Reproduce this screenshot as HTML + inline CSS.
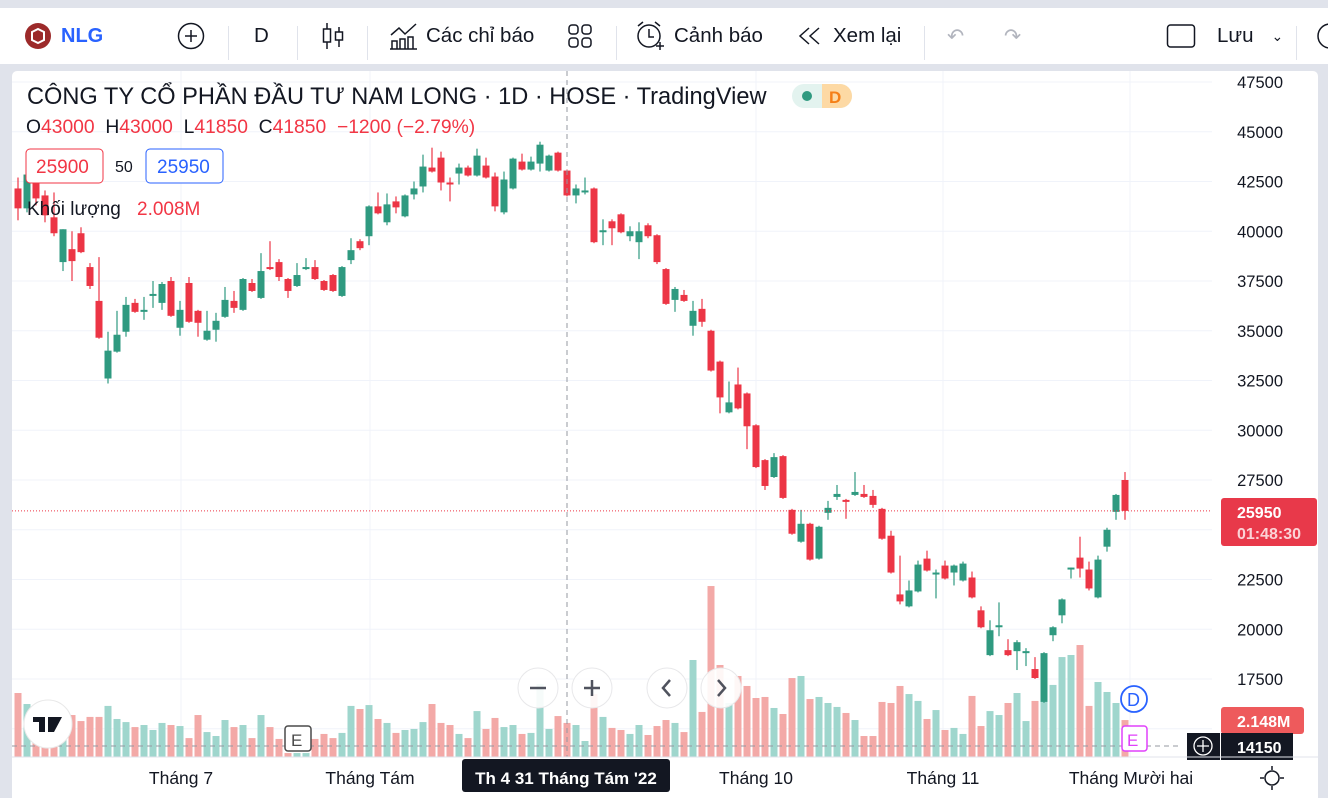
<!DOCTYPE html>
<html><head><meta charset="utf-8">
<style>
*{margin:0;padding:0;box-sizing:border-box}
body{width:1328px;height:798px;overflow:hidden;background:#e0e3eb;font-family:"Liberation Sans","Noto Sans CJK SC",sans-serif;position:relative}
#topbar{position:absolute;left:0;top:8px;width:1328px;height:56px;background:#fff;color:#131722}
.tb{position:absolute;top:0;height:56px;display:flex;align-items:center;font-size:20.5px;color:#131722}
.sep{position:absolute;top:18px;width:1px;height:34px;background:#e0e3eb}
#panel{position:absolute;left:12px;top:71px;width:1306px;height:727px;background:#fff;border-radius:5px 5px 0 0;overflow:hidden}
svg text{font-family:"Liberation Sans","Noto Sans CJK SC",sans-serif}
</style></head><body>
<div id="topbar">
  <div class="tb" style="left:24px"><svg width="28" height="28"><circle cx="14" cy="14" r="13" fill="#9c2a2a"/><path d="M8 10 L14 7 L20 10 L20 18 L14 21 L8 18Z" fill="none" stroke="#fff" stroke-width="2"/></svg></div>
  <div class="tb" style="left:61px;font-weight:bold;color:#2962ff;font-size:20px">NLG</div>
  <div class="tb" style="left:177px"><svg width="28" height="28"><circle cx="14" cy="14" r="12.5" fill="none" stroke="#131722" stroke-width="1.5"/><path d="M14 8v12M8 14h12" stroke="#131722" stroke-width="1.5"/></svg></div>
  <div class="sep" style="left:228px"></div>
  <div class="tb" style="left:254px">D</div>
  <div class="sep" style="left:297px"></div>
  <div class="tb" style="left:320px"><svg width="26" height="30"><path d="M7 2v26M19 6v20" stroke="#131722" stroke-width="1.5"/><rect x="3.5" y="8" width="7" height="13" fill="#fff" stroke="#131722" stroke-width="1.5"/><rect x="15.5" y="11" width="7" height="8" fill="#fff" stroke="#131722" stroke-width="1.5"/></svg></div>
  <div class="sep" style="left:367px"></div>
  <div class="tb" style="left:389px"><svg width="30" height="30" style="margin-right:7px"><path d="M2 14l8-7 6 6 11-10" fill="none" stroke="#131722" stroke-width="1.5"/><path d="M3 28v-8h5v8M11 28v-10h5v10M19 28v-12h5v12M1 28h27" fill="none" stroke="#131722" stroke-width="1.5"/></svg>Các chỉ báo</div>
  <div class="tb" style="left:567px"><svg width="26" height="26"><rect x="2" y="2" width="9" height="9" rx="3" fill="none" stroke="#131722" stroke-width="1.5"/><rect x="15" y="2" width="9" height="9" rx="3" fill="none" stroke="#131722" stroke-width="1.5"/><rect x="2" y="15" width="9" height="9" rx="3" fill="none" stroke="#131722" stroke-width="1.5"/><rect x="15" y="15" width="9" height="9" rx="3" fill="none" stroke="#131722" stroke-width="1.5"/></svg></div>
  <div class="sep" style="left:616px"></div>
  <div class="tb" style="left:634px"><svg width="32" height="32" style="margin-right:8px"><circle cx="15" cy="16" r="11" fill="none" stroke="#131722" stroke-width="1.5"/><path d="M15 9v8h5M4 6l5-4M26 6l-5-4M22 26h8M26 22v8" fill="none" stroke="#131722" stroke-width="1.5"/></svg>Cảnh báo</div>
  <div class="tb" style="left:797px"><svg width="26" height="22" style="margin-right:10px"><path d="M12 3L3 11l9 8M22 3l-9 8 9 8" fill="none" stroke="#131722" stroke-width="1.5"/></svg>Xem lại</div>
  <div class="sep" style="left:924px"></div>
  <div class="tb" style="left:947px;color:#b2b5be">↶</div>
  <div class="tb" style="left:1004px;color:#b2b5be">↷</div>
  <div class="tb" style="left:1166px"><svg width="30" height="30"><rect x="1.5" y="4" width="27" height="22" rx="3" fill="none" stroke="#131722" stroke-width="1.5"/></svg></div>
  <div class="tb" style="left:1217px">Lưu<span style="font-size:14px;margin-left:18px">⌄</span></div>
  <div class="sep" style="left:1296px"></div>
  <div class="tb" style="left:1314px"><svg width="20" height="30"><circle cx="16" cy="15" r="12" fill="none" stroke="#131722" stroke-width="1.5"/></svg></div>
</div>
<div id="panel">
<svg id="chart" width="1306" height="727"></svg>
</div>
<script>
const opens=[42150,41150,42600,41800,40700,38450,39100,39900,38200,36500,32600,33950,34950,36400,35950,36750,36400,37500,35150,37400,36000,34550,35050,35700,36500,36050,37400,36650,38200,38450,37600,37250,38100,38200,37500,37800,36750,38550,39500,39750,41250,40450,41500,40750,41850,42250,43200,43700,42450,42900,43200,42800,43300,42750,40950,42150,43500,43100,43400,43050,43950,43050,41800,41950,42150,39950,40500,40850,39750,39450,40300,39800,38100,36550,36800,35250,36100,35000,33450,30900,32300,31850,30250,28500,27650,28700,26000,24400,25300,23550,25850,26650,26500,26750,26800,26700,26050,24700,21750,21150,21900,23550,22750,23200,22850,22450,22600,20950,18700,20100,18950,18900,18800,18000,16350,19700,20700,23000,23600,23000,21600,24150,25900,27500];
const highs=[42700,43100,43000,42050,41950,40100,40000,40200,38400,38700,34950,36000,36700,36600,36700,37500,37450,37700,36500,37700,36050,36000,35900,37200,37000,37650,37600,38900,39500,38600,37650,38400,38650,38550,37550,37850,38250,39650,39600,41300,41950,41900,41750,41850,42500,43850,44200,44000,42700,43400,43300,44150,43700,42950,43000,43700,43900,43750,44500,43850,44000,43100,42350,42700,42200,40600,40600,40900,40250,40450,40400,39850,38150,37200,37050,36500,36600,35050,33500,32450,33150,31900,30300,28550,28850,28750,26050,26000,25350,25200,26450,27250,26550,27900,27250,27000,26100,24950,23700,22450,23450,23950,23000,23450,23250,23400,22900,21150,20450,21350,19500,19450,19050,18600,18850,20150,21550,23100,24650,23400,23700,25100,26800,27900];
const lows=[40550,40950,41300,40450,39750,38000,37500,38900,37100,34600,32350,33900,34700,35900,35550,36150,36050,35700,34750,35400,34700,34500,34450,35650,35900,36000,36950,36600,38050,37500,36650,37200,38050,37550,37000,36950,36700,38350,39050,39300,40850,40300,40900,40700,41600,41950,42950,42050,41500,42350,42750,42750,42650,41000,40850,42100,43050,43050,43000,43000,43000,41750,41400,41850,39400,39300,39300,39900,39500,38600,39650,38350,36300,35950,36450,34750,35200,32950,30850,30850,31050,29050,28100,27000,27600,26550,24750,24350,23450,23500,25500,26500,25550,26700,26600,26100,24500,22800,21250,21100,21850,22900,21550,22500,22200,22400,21550,20050,18650,19650,18650,17950,18150,17500,16300,19400,20300,22550,22600,21950,21550,23900,25500,25500];
const closes=[41150,42850,41650,40800,39900,40100,38500,38950,37250,34650,34000,34800,36300,35950,36050,36850,37350,35750,36050,35450,35400,35000,35500,36550,36150,37600,37000,38000,38100,37700,37000,37800,38200,37600,37050,37000,38200,39050,39150,41250,40900,41350,41200,41800,42150,43250,43000,42450,42350,43200,42800,43800,42700,41250,42600,43650,43100,43500,44350,43800,43050,41800,42150,42050,39450,40050,40150,39950,40000,40000,39750,38450,36350,37100,36500,36000,35450,33000,31650,31400,31100,30200,28150,27200,28650,26600,24800,25300,23500,25150,26100,26800,26400,26900,26650,26250,24550,22850,21400,21950,23250,22950,22850,22550,23200,23300,21600,20100,19950,20200,18700,19350,18900,17550,18800,20100,21500,23100,23050,22050,23500,25000,26750,25950];
const volumes=[3.72,3.08,2.27,2.62,2.38,2.44,2.44,2.09,2.33,2.33,2.97,2.21,2.03,1.74,1.86,1.57,1.98,1.86,1.80,1.10,2.44,1.45,1.22,2.15,1.74,1.86,1.10,2.44,1.74,1.05,0.23,0.23,0.23,1.05,1.34,1.10,1.40,2.97,2.79,3.02,2.21,1.98,1.40,1.57,1.63,2.03,3.08,1.98,1.86,1.34,1.10,2.67,1.63,2.27,1.74,1.86,1.34,1.40,4.24,1.63,2.38,1.98,1.86,0.93,3.66,2.33,1.69,1.57,1.34,1.86,1.28,1.80,2.15,1.98,1.45,5.64,2.62,9.94,5.35,3.14,4.71,4.13,3.43,3.49,2.85,2.50,4.59,4.71,3.37,3.49,3.14,2.91,2.56,2.15,1.22,1.22,3.20,3.14,4.13,3.66,3.26,2.21,2.73,1.57,1.69,1.34,3.55,1.80,2.67,2.44,3.14,3.72,2.09,3.26,3.90,4.19,5.81,5.93,6.51,2.97,4.36,3.78,3.14,2.148];
const priceTicks=[47500,45000,42500,40000,37500,35000,32500,30000,27500,25000,22500,20000,17500];
const priceLabels=["47500","45000","42500","40000","37500","35000","32500","30000","27500","","22500","20000","17500"];
const timeLabels=["Tháng 7","Tháng Tám","Tháng 10","Tháng 11","Tháng Mười hai"];
const lastPrice=25950;

const svg=document.getElementById('chart');
const NS='http://www.w3.org/2000/svg';
const OX=12,OY=71;
function X(i){return 18+9*i-OX;}
function Y(p){return 82+(47500-p)/2500*49.75-OY;}
function VY(v){return 757-v*17.2-OY;}
function mk(tag,attrs,parent){const e=document.createElementNS(NS,tag);for(const k in attrs)e.setAttribute(k,attrs[k]);(parent||svg).appendChild(e);return e;}
const UPC='#2f9a80',DNC='#ec3545';
const grid=mk('g',{});


for(let k=0;k<14;k++){const p=47500-2500*k;const y=Y(p);mk('line',{x1:0,x2:1200,y1:y,y2:y,stroke:'#f0f3fa','stroke-width':1},grid);}
[181,370,756,943,1130].forEach(x=>mk('line',{x1:x-OX,x2:x-OX,y1:0,y2:686,stroke:'#f0f3fa'},grid));
const vg=mk('g',{});


volumes.forEach((v,i)=>{const up=closes[i]>=opens[i];const r=mk('rect',{x:X(i)-3.5,y:VY(v),width:7,height:757-OY-VY(v),fill:up?'#9fd6cd':'#f3a9a7'},vg);

});
const cg=mk('g',{});


opens.forEach((o,i)=>{const c=closes[i];const up=c>=o;const col=up?UPC:DNC;const x=X(i);
mk('line',{x1:x,x2:x,y1:Y(highs[i]),y2:Y(lows[i]),stroke:col,'stroke-width':1.2},cg);
const t=Math.min(Y(o),Y(c)),h=Math.max(Math.abs(Y(o)-Y(c)),2);
const r=mk('rect',{x:x-3.5,y:t,width:7,height:h,fill:col},cg);

});
const ly=Y(lastPrice);
mk('line',{x1:0,x2:1200,y1:ly,y2:ly,stroke:DNC,'stroke-width':1,'stroke-dasharray':'1 2'});
mk('line',{x1:567-OX,x2:567-OX,y1:0,y2:686,stroke:'#9598a1','stroke-dasharray':'5 4'});
mk('line',{x1:0,x2:1170,y1:746-OY,y2:746-OY,stroke:'#9598a1','stroke-dasharray':'5 4'});
const pa=mk('g',{});


priceTicks.forEach((p,k)=>{const t=mk('text',{x:1283-OX,y:Y(p)+6,'text-anchor':'end','font-size':16.5,fill:'#131722'},pa);t.textContent=priceLabels[k];});
mk('rect',{x:1221-OX,y:498-OY,width:96,height:48,rx:3,fill:'#e8394a'});
const t1=mk('text',{x:1237-OX,y:518-OY,'font-size':16,'font-weight':'bold',fill:'#fff'});t1.textContent='25950';


const t2=mk('text',{x:1237-OX,y:539-OY,'font-size':16,'font-weight':'bold',fill:'#fbd3d6'});t2.textContent='01:48:30';
mk('rect',{x:1221-OX,y:707-OY,width:83,height:27,rx:3,fill:'#ee5a5c'});
const t3=mk('text',{x:1237-OX,y:727-OY,'font-size':16,'font-weight':'bold',fill:'#fff'});t3.textContent='2.148M';


mk('rect',{x:1187-OX,y:733-OY,width:33,height:27,fill:'#131722'});
mk('circle',{cx:1203-OX,cy:746-OY,r:9,fill:'none',stroke:'#fff','stroke-width':1.3});
mk('path',{d:`M${1203-OX} ${740-OY}v12M${1197-OX} ${746-OY}h12`,stroke:'#fff','stroke-width':1.3});
mk('rect',{x:1221-OX,y:733-OY,width:72,height:27,fill:'#131722'});
const t4=mk('text',{x:1237-OX,y:753-OY,'font-size':16,'font-weight':'bold',fill:'#fff'});t4.textContent='14150';


mk('line',{x1:0,x2:1306,y1:757-OY,y2:757-OY,stroke:'#e0e3eb'});
const ta=mk('g',{});


timeLabels.forEach((s,k)=>{const x=(k==4?1131:[181,370,756,943][k])-OX;const t=mk('text',{x:x,y:784-OY,'text-anchor':'middle','font-size':17.5,fill:'#131722'},ta);t.textContent=s;});
mk('rect',{x:462-OX,y:759-OY,width:208,height:33,rx:3,fill:'#131722'});
const t5=mk('text',{x:566-OX,y:784-OY,'text-anchor':'middle','font-size':17,'font-weight':'bold',fill:'#fff'});t5.textContent="Th 4 31 Tháng Tám '22";


mk('circle',{cx:1272-OX,cy:778-OY,r:7,fill:'none',stroke:'#131722','stroke-width':1.5});
mk('path',{d:`M${1272-OX} ${766-OY}v4M${1272-OX} ${786-OY}v4M${1260-OX} ${778-OY}h4M${1280-OX} ${778-OY}h4`,stroke:'#131722','stroke-width':1.5});
function txt(x,y,s,size,fill,extra){const t=mk('text',Object.assign({x:x-OX,y:y-OY,'font-size':size,fill:fill},extra||{}));t.textContent=s;return t;}
const title=txt(27,104,'CÔNG TY CỔ PHẦN ĐẦU TƯ NAM LONG · 1D · HOSE · TradingView',23.6,'#131722');


const oh=mk('text',{x:26-OX,y:133-OY,'font-size':19.3,fill:'#131722'});


oh.innerHTML='O<tspan fill="#f23645">43000</tspan>  H<tspan fill="#f23645">43000</tspan>  L<tspan fill="#f23645">41850</tspan>  C<tspan fill="#f23645">41850</tspan>  <tspan fill="#f23645">−1200 (−2.79%)</tspan>';
oh.style.whiteSpace='pre';
mk('rect',{x:792-OX,y:84-OY,width:60,height:24,rx:12,fill:'#e3f3ef'});
mk('rect',{x:822-OX,y:84-OY,width:16,height:24,fill:'#fdd9a4'});
mk('rect',{x:828-OX,y:84-OY,width:24,height:24,rx:12,fill:'#fdd9a4'});
mk('circle',{cx:807-OX,cy:96-OY,r:5,fill:'#2f9a80'});
txt(829,103,'D',17,'#f57f17',{'font-weight':'bold'});
const bs=mk('rect',{x:26-OX,y:149-OY,width:77,height:34,rx:4,fill:'#fff',stroke:'#f23645'});


txt(36,173,'25900',19,'#f23645');
txt(115,172,'50',16,'#131722');
const bb=mk('rect',{x:146-OX,y:149-OY,width:77,height:34,rx:4,fill:'#fff',stroke:'#2962ff'});


txt(157,173,'25950',19,'#2962ff');
txt(27,215,'Khối lượng',19,'#131722');
txt(137,215,'2.008M',19,'#f23645');
mk('circle',{cx:48-OX,cy:724-OY,r:24,fill:'#fff',stroke:'#e8e8e8'});
mk('path',{d:`M${33-OX} ${717-OY}h12v15h-6v-10h-6z M${48-OX} ${717-OY}h14l-8 15h-6z`,fill:'#131722'});
mk('rect',{x:285-OX,y:726-OY,width:26,height:25,rx:3,fill:'#fff',stroke:'#4a4a4a','stroke-width':1.5});
txt(291,746,'E',17,'#4a4a4a');
mk('rect',{x:1122-OX,y:726-OY,width:25,height:25,rx:3,fill:'#fff',stroke:'#e040fb','stroke-width':1.5});
txt(1127,746,'E',17,'#e040fb');
mk('circle',{cx:1134-OX,cy:699-OY,r:13,fill:'#fff',stroke:'#2962ff','stroke-width':1.8});
txt(1127,706,'D',18,'#2962ff');
[[538,'m'],[592,'p'],[667,'l'],[721,'r']].forEach(([x,s])=>{
const c=mk('circle',{cx:x-OX,cy:688-OY,r:20,fill:'rgba(255,255,255,0.9)',stroke:'#e8e8ea'});


const cx=x-OX,cy=688-OY;
let d=s=='m'?`M${cx-8} ${cy}h16`:s=='p'?`M${cx-8} ${cy}h16M${cx} ${cy-8}v16`:s=='l'?`M${cx+3} ${cy-8}l-7 8 7 8`:`M${cx-3} ${cy-8}l7 8-7 8`;
mk('path',{d:d,stroke:'#50535e','stroke-width':2.5,fill:'none'});});
</script>
</body></html>
